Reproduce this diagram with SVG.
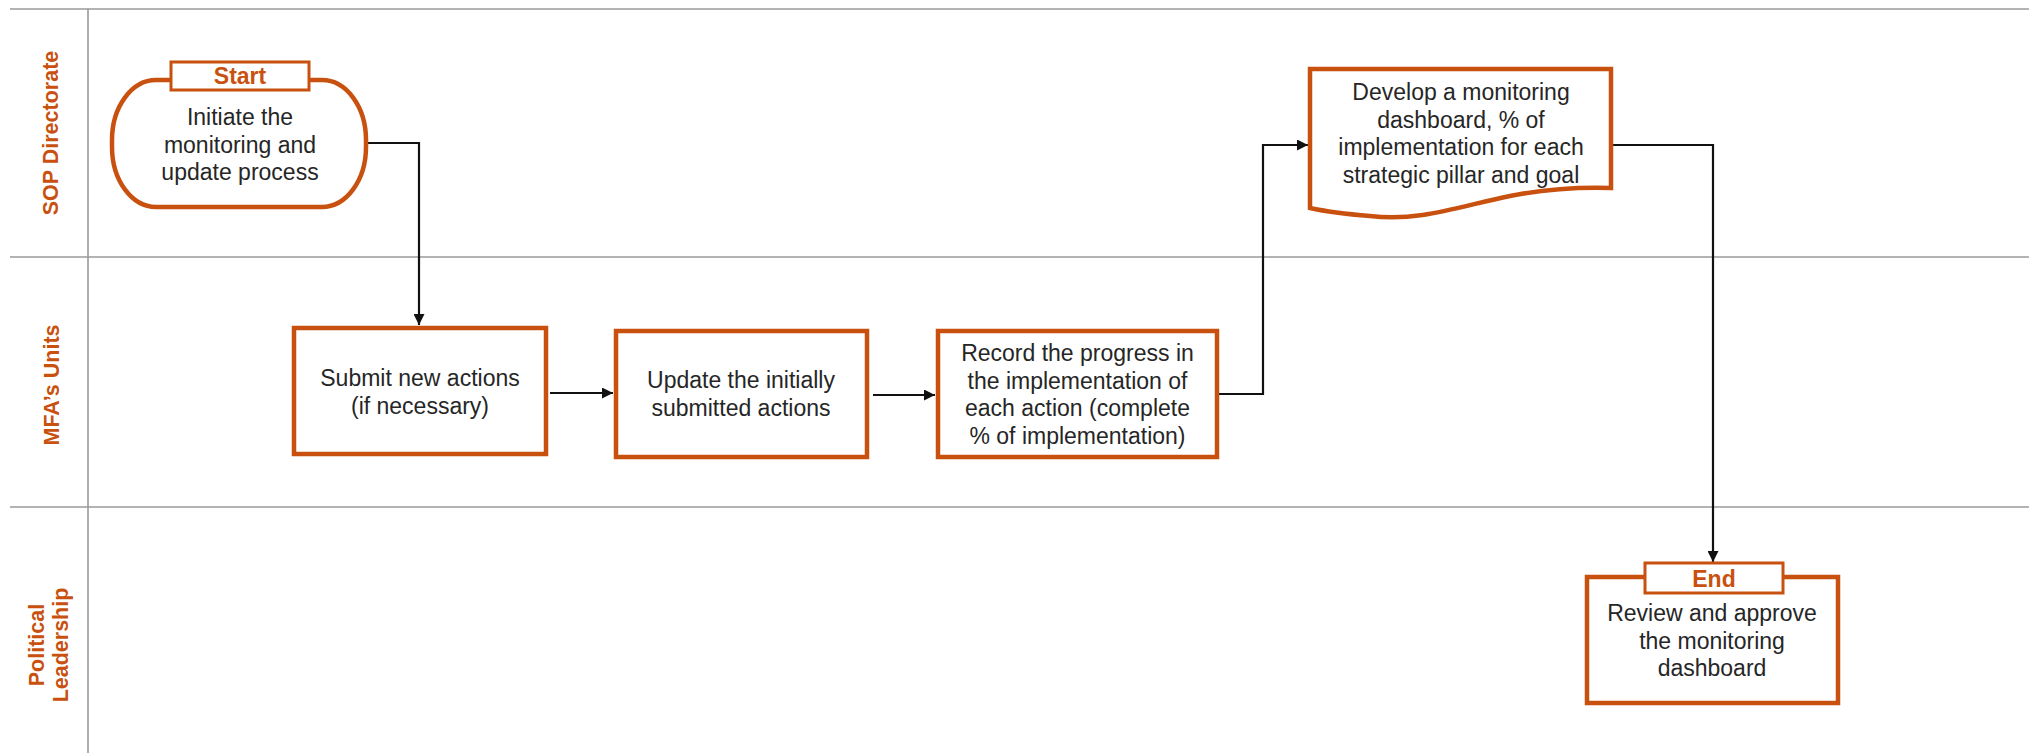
<svg xmlns="http://www.w3.org/2000/svg" width="2029" height="753" viewBox="0 0 2029 753">
<style>
.lane{stroke:#9a9a9a;stroke-width:1.6;fill:none}
.lbl{font-family:"Liberation Sans",Arial,sans-serif;font-weight:bold;font-size:21.5px;fill:#C8510F;text-anchor:middle}
.box{fill:#fff;stroke:#C8510F;stroke-width:4.5}
.tag{fill:#fff;stroke:#C8510F;stroke-width:3}
.tagt{font-family:"Liberation Sans",Arial,sans-serif;font-weight:bold;font-size:23px;fill:#C8510F;text-anchor:middle}
.t{font-family:"Liberation Sans",Arial,sans-serif;font-size:23px;fill:#262626;text-anchor:middle}
.c{fill:none;stroke:#111;stroke-width:2.2}
</style>
<defs>
<marker id="arr" viewBox="0 0 10 10" refX="10" refY="5" markerWidth="5" markerHeight="5" markerUnits="strokeWidth" orient="auto">
<path d="M0,0 L10,5 L0,10 z" fill="#111"/>
</marker>
</defs>
<rect width="2029" height="753" fill="#fff"/>
<g id="lanes">
<line class="lane" x1="10" y1="9" x2="2029" y2="9"/>
<line class="lane" x1="10" y1="257" x2="2029" y2="257"/>
<line class="lane" x1="10" y1="507" x2="2029" y2="507"/>
<line class="lane" x1="88" y1="9" x2="88" y2="753"/>
<text class="lbl" transform="translate(58,133) rotate(-90)">SOP Directorate</text>
<text class="lbl" transform="translate(59,385) rotate(-90)">MFA’s Units</text>
<text class="lbl" transform="translate(0,645) rotate(-90)"><tspan x="0" y="43.5">Political</tspan><tspan x="0" y="68">Leadership</tspan></text>
</g>
<g id="connectors">
<path class="c" d="M366,143 H419 V325" marker-end="url(#arr)"/>
<path class="c" d="M550,393 H613" marker-end="url(#arr)"/>
<path class="c" d="M873,395 H935" marker-end="url(#arr)"/>
<path class="c" d="M1217,394 H1263 V145 H1308" marker-end="url(#arr)"/>
<path class="c" d="M1612,145 H1713 V562" marker-end="url(#arr)"/>
</g>
<g id="start">
<rect class="box" x="112" y="80" width="254" height="127" rx="44" ry="60"/>
<rect class="tag" x="171" y="62" width="138" height="28"/>
<text class="tagt" x="240" y="84">Start</text>
<text class="t"><tspan x="240" y="125">Initiate the</tspan><tspan x="240" y="152.5">monitoring and</tspan><tspan x="240" y="180">update process</tspan></text>
</g>
<g id="submit">
<rect class="box" x="294" y="328" width="252" height="126"/>
<text class="t"><tspan x="420" y="386">Submit new actions</tspan><tspan x="420" y="414">(if necessary)</tspan></text>
</g>
<g id="update">
<rect class="box" x="616" y="331" width="251" height="126"/>
<text class="t"><tspan x="741" y="388">Update the initially</tspan><tspan x="741" y="416">submitted actions</tspan></text>
</g>
<g id="record">
<rect class="box" x="938" y="331" width="279" height="126"/>
<text class="t"><tspan x="1077.5" y="361">Record the progress in</tspan><tspan x="1077.5" y="388.5">the implementation of</tspan><tspan x="1077.5" y="416">each action (complete</tspan><tspan x="1077.5" y="443.5">% of implementation)</tspan></text>
</g>
<g id="develop">
<path class="box" d="M1310,69 H1611 V188 C1575,187 1545,189 1510,196 C1460,206 1420,222 1370,216 C1345,214 1328,212 1310,208 Z"/>
<text class="t"><tspan x="1461" y="100">Develop a monitoring</tspan><tspan x="1461" y="127.5">dashboard, % of</tspan><tspan x="1461" y="155">implementation for each</tspan><tspan x="1461" y="182.5">strategic pillar and goal</tspan></text>
</g>
<g id="end">
<rect class="box" x="1587" y="577" width="251" height="126"/>
<rect class="tag" x="1645" y="563" width="138" height="30"/>
<text class="tagt" x="1714" y="587">End</text>
<text class="t"><tspan x="1712" y="621">Review and approve</tspan><tspan x="1712" y="648.5">the monitoring</tspan><tspan x="1712" y="676">dashboard</tspan></text>
</g>
</svg>
